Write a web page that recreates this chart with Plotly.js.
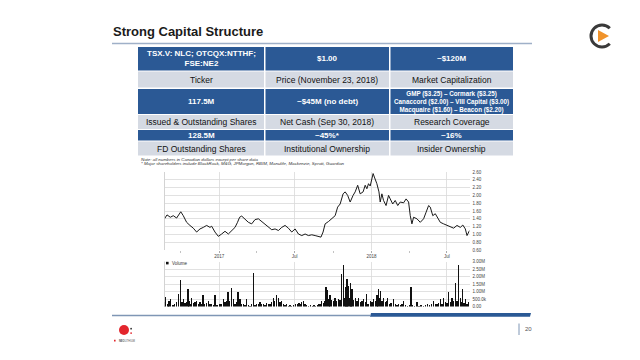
<!DOCTYPE html>
<html><head><meta charset="utf-8">
<script src="https://cdn.plot.ly/plotly-3.0.1.min.js"></script>
<style>html,body{margin:0;padding:0;background:#fff}#chart{width:640px;height:360px}</style>
</head><body><div id="chart"></div>
<script>
// ---------- DATA ----------
const priceDates = ['2016-08-23','2016-08-29','2016-09-06','2016-09-13','2016-09-21','2016-09-29','2016-10-01','2016-10-07','2016-10-15','2016-10-23','2016-10-31','2016-11-08','2016-11-16','2016-11-24','2016-12-02','2016-12-10','2016-12-14','2016-12-22','2016-12-30','2017-01-07','2017-01-15','2017-01-23','2017-01-31','2017-02-08','2017-02-14','2017-02-19','2017-02-24','2017-03-04','2017-03-12','2017-03-20','2017-03-28','2017-04-05','2017-04-13','2017-04-21','2017-04-29','2017-05-07','2017-05-15','2017-05-23','2017-05-31','2017-06-08','2017-06-16','2017-06-24','2017-07-02','2017-07-10','2017-07-18','2017-07-26','2017-08-03','2017-08-11','2017-08-19','2017-08-27','2017-09-02','2017-09-07','2017-09-12','2017-09-20','2017-09-28','2017-10-06','2017-10-12','2017-10-18','2017-10-25','2017-10-30','2017-11-05','2017-11-11','2017-11-18','2017-11-23','2017-11-29','2017-12-05','2017-12-12','2017-12-17','2017-12-21','2017-12-25','2017-12-29','2018-01-05','2018-01-08','2018-01-14','2018-01-19','2018-01-22','2018-01-26','2018-01-30','2018-02-05','2018-02-11','2018-02-15','2018-02-21','2018-02-27','2018-03-05','2018-03-11','2018-03-19','2018-03-25','2018-03-31','2018-04-04','2018-04-08','2018-04-12','2018-04-20','2018-04-28','2018-05-06','2018-05-12','2018-05-18','2018-05-22','2018-05-28','2018-06-03','2018-06-09','2018-06-15','2018-06-23','2018-07-01','2018-07-09','2018-07-17','2018-07-25','2018-08-02','2018-08-08','2018-08-14','2018-08-18','2018-08-24'];
const priceValues = [1.40,1.50,1.44,1.48,1.42,1.55,1.58,1.48,1.31,1.23,1.16,1.06,1.14,1.18,1.23,1.18,1.21,1.06,0.95,1.01,1.08,1.01,1.10,1.18,1.31,1.44,1.47,1.40,1.31,1.27,1.38,1.40,1.33,1.27,1.18,1.12,1.14,1.10,1.18,1.23,1.16,1.06,1.14,1.01,0.97,1.01,0.97,0.99,0.97,0.95,0.93,1.06,1.27,1.33,1.40,1.48,1.70,1.78,2.04,2.09,2.00,1.83,2.00,2.09,2.26,2.04,2.09,2.26,2.17,2.30,2.24,2.56,2.47,2.30,2.09,1.83,2.04,1.87,1.74,2.00,1.91,1.78,1.87,1.74,1.83,1.81,1.91,1.83,1.48,1.27,1.44,1.40,1.31,1.40,1.57,1.74,1.70,1.48,1.53,1.40,1.31,1.27,1.23,1.21,1.16,1.23,1.18,1.24,1.14,0.97,1.10];

const volumeDates = ['2016-08-23','2016-08-26','2016-08-31','2016-09-03','2016-09-07','2016-09-12','2016-09-16','2016-09-21','2016-09-25','2016-10-01','2016-10-04','2016-10-07','2016-10-11','2016-10-14','2016-10-18','2016-10-21','2016-10-24','2016-10-27','2016-11-01','2016-11-04','2016-11-08','2016-11-12','2016-11-16','2016-11-19','2016-11-23','2016-11-27','2016-12-01','2016-12-06','2016-12-10','2016-12-14','2016-12-18','2016-12-22','2016-12-27','2017-01-03','2017-01-07','2017-01-11','2017-01-15','2017-01-18','2017-01-22','2017-01-26','2017-01-30','2017-02-04','2017-02-08','2017-02-12','2017-02-15','2017-02-20','2017-02-24','2017-02-28','2017-03-04','2017-03-08','2017-03-12','2017-03-16','2017-03-20','2017-03-24','2017-03-28','2017-04-01','2017-04-05','2017-04-09','2017-04-13','2017-04-17','2017-04-21','2017-04-25','2017-04-29','2017-05-03','2017-05-07','2017-05-11','2017-05-14','2017-05-18','2017-05-23','2017-05-27','2017-05-31','2017-06-04','2017-06-08','2017-06-12','2017-06-16','2017-06-20','2017-06-24','2017-06-28','2017-07-03','2017-07-07','2017-07-11','2017-07-15','2017-07-18','2017-07-22','2017-07-26','2017-07-30','2017-08-03','2017-08-08','2017-08-12','2017-08-16','2017-08-20','2017-08-24','2017-08-28','2017-09-01','2017-09-04','2017-09-08','2017-09-11','2017-09-14','2017-09-18','2017-09-21','2017-09-24','2017-09-28','2017-10-02','2017-10-06','2017-10-10','2017-10-14','2017-10-18','2017-10-22','2017-10-26','2017-10-28','2017-10-30','2017-11-01','2017-11-03','2017-11-05','2017-11-07','2017-11-09','2017-11-11','2017-11-13','2017-11-15','2017-11-19','2017-11-23','2017-11-27','2017-12-01','2017-12-05','2017-12-09','2017-12-13','2017-12-17','2017-12-20','2017-12-24','2017-12-29','2018-01-02','2018-01-06','2018-01-10','2018-01-14','2018-01-16','2018-01-18','2018-01-20','2018-01-22','2018-01-26','2018-01-30','2018-02-03','2018-02-06','2018-02-09','2018-02-13','2018-02-17','2018-02-23','2018-02-27','2018-03-03','2018-03-07','2018-03-11','2018-03-15','2018-03-19','2018-03-23','2018-03-28','2018-04-02','2018-04-06','2018-04-10','2018-04-14','2018-04-20','2018-04-25','2018-04-30','2018-05-05','2018-05-10','2018-05-15','2018-05-20','2018-05-25','2018-05-30','2018-06-03','2018-06-07','2018-06-11','2018-06-15','2018-06-19','2018-06-23','2018-06-27','2018-07-01','2018-07-05','2018-07-09','2018-07-13','2018-07-17','2018-07-21','2018-07-25','2018-07-29','2018-08-02','2018-08-05','2018-08-08','2018-08-11','2018-08-14','2018-08-18','2018-08-22'];
const volumeValues = [0.3,0.65,0.15,0.35,0.5,0.12,0.2,0.3,0.85,1.8,0.3,0.5,0.25,0.3,1.15,0.35,0.2,0.55,0.25,0.3,0.4,0.2,0.3,0.15,0.8,0.2,0.25,0.4,0.15,0.2,0.1,0.75,0.1,0.15,0.2,0.5,0.3,0.35,1.0,0.4,1.25,0.5,0.2,0.3,1.0,0.5,0.2,0.15,0.1,0.5,0.1,0.05,0.15,2.25,0.1,0.15,0.2,0.3,0.15,0.2,0.1,0.25,0.2,0.15,0.3,0.6,0.4,0.75,0.55,0.3,0.4,0.2,0.1,0.15,0.05,0.1,0.05,0.1,0.2,0.15,0.25,0.2,0.3,0.4,0.2,0.1,0.05,0.1,0.05,0.1,0.05,0.1,0.15,0.2,0.4,0.25,0.35,1.3,1.1,0.5,0.75,0.45,0.35,0.6,0.4,0.5,0.45,2.2,2.75,0.6,1.3,0.7,1.85,0.8,1.4,0.6,1.55,0.5,1.2,0.45,0.6,0.35,0.55,0.3,0.4,0.5,0.3,0.85,0.2,0.4,0.3,0.5,0.35,0.75,0.45,1.15,0.6,1.05,0.4,0.6,0.3,0.35,0.55,0.2,0.25,0.5,0.15,0.1,0.2,0.1,0.15,0.4,0.1,0.05,0.1,1.3,0.1,0.05,0.3,0.05,0.1,0.05,0.1,0.15,0.1,0.2,0.4,0.15,0.2,0.25,0.5,0.2,0.55,0.3,0.25,0.95,0.3,0.55,0.35,1.55,0.4,2.8,0.6,0.3,1.15,0.25,0.5,0.2,0.3];

const priceTicks = [0.6,0.8,1.0,1.2,1.4,1.6,1.8,2.0,2.2,2.4,2.6];
const volumeTickVals = [0,0.5,1,1.5,2,2.5,3];
const volumeTickText = ['0.00','500.0k','1.00M','1.50M','2.00M','2.50M','3.00M'];
const dateTickVals = ['2017-01-01','2017-07-01','2018-01-01','2018-07-01'];
const dateTickText = ['2017','Jul','2018','Jul'];

const titleText = 'Strong Capital Structure';
const valueRow1 = ['TSX.V: NLC; OTCQX:NTTHF;<br>FSE:NE2','$1.00','~$120M'];
const labelRow1 = ['Ticker','Price (November 23, 2018)','Market Capitalization'];
const valueRow2 = ['117.5M','~$45M (no debt)','GMP ($3.25) – Cormark ($3.25)<br>Canaccord ($2.00) – VIII Capital ($3.00)<br>Macquaire ($1.60) – Beacon ($2.20)'];
const labelRow2 = ['Issued & Outstanding Shares','Net Cash (Sep 30, 2018)','Research Coverage'];
const valueRow3 = ['128.5M','~45%*','~16%'];
const labelRow3 = ['FD Outstanding Shares','Institutional Ownership','Insider Ownership'];
const noteLines = ['Note: all numbers in Canadian dollars except per share data','* Major shareholders include BlackRock, M&G, JPMorgan, RBIM, Manulife, Mackenzie, Sprott, Guardian'];

// ---------- LAYOUT HELPERS ----------
const W = 640, H = 360;
const px = x => x / W;
const py = y => 1 - y / H;
const FONT = 'Liberation Sans, Arial, sans-serif';
const BLUE = '#2b5995', GRAY = '#d5dae3';

const shapes = [];
const annotations = [];
function rect(x0, y0, x1, y1, color) {
  shapes.push({type:'rect', xref:'paper', yref:'paper', x0:px(x0), x1:px(x1), y0:py(y1), y1:py(y0), fillcolor:color, line:{width:0}, layer:'below'});
}
function line(x0, y0, x1, y1, color, w) {
  shapes.push({type:'line', xref:'paper', yref:'paper', x0:px(x0), x1:px(x1), y0:py(y0), y1:py(y1), line:{color:color, width:w}});
}
function text(t, x, y, size, color, xanchor) {
  annotations.push({text:t, xref:'paper', yref:'paper', x:px(x), y:py(y), xanchor:xanchor||'center', yanchor:'middle', showarrow:false, font:{family:FONT, size:size, color:color}});
}

// Title and rules
text('<b>' + titleText + '</b>', 111, 31, 13, '#1a1a1a', 'left');
line(112, 43.5, 532, 43.5, '#9fb0c8', 1.5);

// Table
const cols = [[138, 264], [265.5, 389], [390.5, 513]];
const rows = [
  {y:[47, 70.5], fill:BLUE, vals:valueRow1, kind:'value'},
  {y:[71.5, 87.5], fill:GRAY, vals:labelRow1, kind:'label'},
  {y:[89, 114], fill:BLUE, vals:valueRow2, kind:'value'},
  {y:[115, 129], fill:GRAY, vals:labelRow2, kind:'label'},
  {y:[130, 140.5], fill:BLUE, vals:valueRow3, kind:'value'},
  {y:[141.5, 155.5], fill:GRAY, vals:labelRow3, kind:'label'}
];
rows.forEach(r => {
  cols.forEach((c, i) => {
    rect(c[0], r.y[0], c[1], r.y[1], r.fill);
    const cx = (c[0] + c[1]) / 2, cy = (r.y[0] + r.y[1]) / 2;
    const t = r.vals[i];
    if (r.kind === 'value') {
      const small = t.split('<br>').length > 2;
      text('<b>' + t + '</b>', cx, cy, small ? 6.3 : 8, '#ffffff');
    } else {
      text(t, cx, cy, 8.5, '#111111');
    }
  });
});

// Notes
text('<i>' + noteLines[0] + '</i>', 139, 159, 4.4, '#333', 'left');
text('<i>' + noteLines[1] + '</i>', 139, 163.5, 4.4, '#333', 'left');

// chart left borders
line(164.5, 172, 164.5, 250, '#c8c8c8', 0.8);
line(164.5, 261.5, 164.5, 306.5, '#c8c8c8', 0.8);

// Volume legend
rect(166, 261.8, 168.6, 264.4, '#111');
text('Volume', 170, 263.2, 4.5, '#333', 'left');

// Bottom rule
line(112, 315.5, 370, 315.5, '#7f96b5', 1.5);
shapes.push({type:'path', xref:'paper', yref:'paper', fillcolor:BLUE, line:{width:0},
  path:`M${px(371)},${py(313)} L${px(531)},${py(313)} L${px(530)},${py(316.8)} L${px(370)},${py(316.8)} Z`});

// Page number
line(519, 323.5, 519, 335, '#7f96b5', 1);
text('20', 523, 328.8, 6, '#555', 'left');

// Bottom-left logo (circle + dots + tiny name)
shapes.push({type:'circle', xref:'paper', yref:'paper', x0:px(119), x1:px(129), y0:py(335), y1:py(325), fillcolor:'#e3262d', line:{width:0}});
shapes.push({type:'circle', xref:'paper', yref:'paper', x0:px(130.2), x1:px(132), y0:py(329.6), y1:py(327.8), fillcolor:'#333', line:{width:0}});
shapes.push({type:'circle', xref:'paper', yref:'paper', x0:px(130.2), x1:px(132), y0:py(334), y1:py(332.2), fillcolor:'#e3262d', line:{width:0}});
rect(114, 339.8, 115.6, 341.4, '#e3262d');
text('<b>NEO</b>LITHIUM', 117, 340.6, 2.6, '#555', 'left');

// Top-right logo: ring "C" with orange play triangle
const P = (x, y) => `${px(x)},${py(y)}`;
shapes.push({type:'path', xref:'paper', yref:'paper', line:{color:'#3a3a3a', width:3},
  path:`M${P(609.78,28.22)} C${P(605.48,23.92)} ${P(598.52,23.92)} ${P(594.22,28.22)} C${P(589.92,32.52)} ${P(589.92,39.48)} ${P(594.22,43.78)} C${P(598.52,48.08)} ${P(605.48,48.08)} ${P(609.78,43.78)}`});
shapes.push({type:'path', xref:'paper', yref:'paper', fillcolor:'#f0932b', line:{width:0},
  path:`M${P(598,30)} L${P(609,36)} L${P(598,42)} Z`});

// ---------- TRACES ----------
const traces = [
  {type:'scatter', mode:'lines', x:priceDates, y:priceValues, xaxis:'x', yaxis:'y',
   line:{color:'#1a1a1a', width:1}, hoverinfo:'skip'},
  {type:'bar', x:volumeDates, y:volumeValues, xaxis:'x2', yaxis:'y2',
   marker:{color:'#111', line:{width:0}}, width:3.2*86400000, hoverinfo:'skip'}
];

const xRange = ['2016-08-23', '2018-08-24'];
const gridC = '#d9d9d9';
const tickF = {family:FONT, size:4.5, color:'#444'};
const layout = {
  width:W, height:H, margin:{l:0, r:0, t:0, b:0}, paper_bgcolor:'#fff', plot_bgcolor:'rgba(0,0,0,0)',
  showlegend:false, font:{family:FONT},
  xaxis:{domain:[px(164.5), px(469.5)], type:'date', range:xRange, anchor:'y',
    tickmode:'array', tickvals:dateTickVals, ticktext:dateTickText, tickfont:tickF,
    showgrid:true, gridcolor:gridC, gridwidth:0.8, zeroline:false, showline:false,
    ticks:'outside', ticklen:2, tickcolor:'#999', tickwidth:0.6,
    minor:{dtick:'M3', tick0:'2017-01-01', ticks:'outside', ticklen:2, tickcolor:'#999', tickwidth:0.6, showgrid:false}},
  yaxis:{domain:[py(250), py(172)], range:[0.6, 2.6], side:'right', anchor:'x',
    tickmode:'array', tickvals:priceTicks, tickformat:'.2f', tickfont:tickF,
    showgrid:true, gridcolor:gridC, gridwidth:0.8, zeroline:false, showline:false, ticks:'', ticklabelstandoff:2},
  xaxis2:{domain:[px(164.5), px(469.5)], type:'date', range:xRange, anchor:'y2',
    tickmode:'array', tickvals:dateTickVals, showticklabels:false,
    showgrid:true, gridcolor:gridC, gridwidth:0.8, zeroline:false, showline:false, ticks:''},
  yaxis2:{domain:[py(306.5), py(261.5)], range:[0, 3], side:'right', anchor:'x2',
    tickmode:'array', tickvals:volumeTickVals, ticktext:volumeTickText, tickfont:tickF,
    showgrid:true, gridcolor:gridC, gridwidth:0.8, zeroline:false, showline:false, ticks:'', ticklabelstandoff:2},
  bargap:0,
  shapes:shapes, annotations:annotations
};

Plotly.newPlot('chart', traces, layout, {staticPlot:true, displayModeBar:false});
</script>
</body></html>
